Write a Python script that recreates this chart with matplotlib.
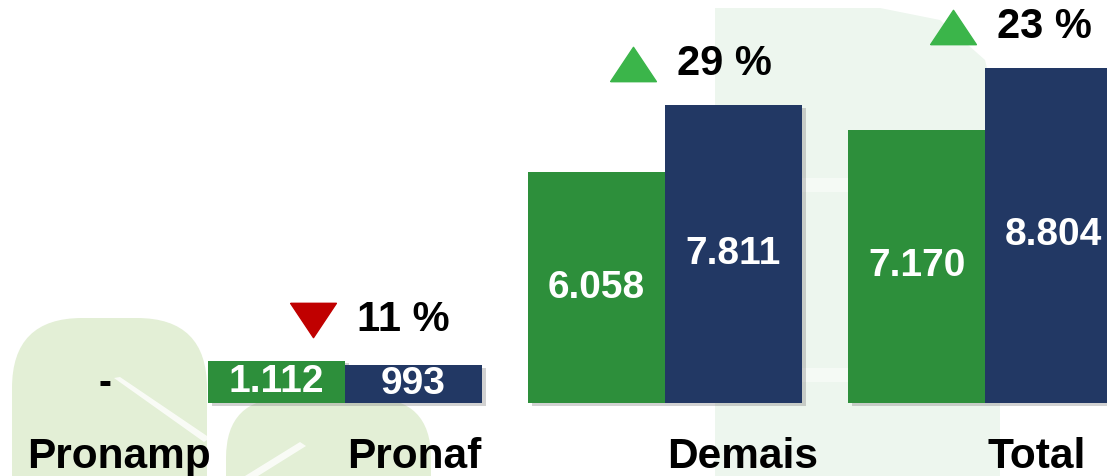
import numpy as np
import matplotlib.pyplot as plt
import matplotlib.transforms as mtransforms
from matplotlib import patheffects as pe
from matplotlib.patches import FancyBboxPatch, Polygon, Rectangle
from matplotlib.path import Path

plt.rcParams['font.family'] = ['Liberation Sans', 'DejaVu Sans']
plt.rcParams['font.weight'] = 'bold'

# dados
categorias = ['Pronamp', 'Pronaf', 'Demais', 'Total']
valores_ant = [0, 1112, 6058, 7170]      # barras verdes
valores_atual = [0, 993, 7811, 8804]     # barras azuis
rotulos_ant = ['', '1.112', '6.058', '7.170']
rotulos_atual = ['-', '993', '7.811', '8.804']
variacao = ['', '11 %', '29 %', '23 %']
sentido = [0, -1, 1, 1]   # -1 queda, 1 alta

verde = '#2d8f3b'
azul = '#223864'
tri_verde = '#3bb54a'
tri_verm = '#c00000'

fig = plt.figure(figsize=(11.07, 4.76), dpi=100)

# fundo com folhas claras (marca d'agua)
bg = fig.add_axes([0, 0, 1, 1], zorder=0)
bg.set_xlim(0, 1107)
bg.set_ylim(476, 0)
bg.axis('off')
bg.add_patch(Polygon([(715, 476), (715, 8), (880, 8), (940, 20), (985, 60),
                      (1000, 120), (1000, 476)], fc='#edf6ee', ec='none'))
bg.add_patch(Rectangle((715, 178), 300, 14, fc='white', ec='none', alpha=0.45))
bg.add_patch(Rectangle((715, 368), 300, 14, fc='white', ec='none', alpha=0.45))
bg.add_patch(FancyBboxPatch((12, 318), 195, 250, boxstyle='round,pad=0,rounding_size=70',
                            fc='#e3efd6', ec='none'))
bg.add_patch(FancyBboxPatch((226, 398), 205, 200, boxstyle='round,pad=0,rounding_size=60',
                            fc='#e3efd6', ec='none'))
bg.add_patch(Polygon([(114, 378), (120, 377), (210, 438), (204, 442)], fc='white', ec='none', alpha=0.8))
bg.add_patch(Polygon([(245, 476), (300, 442), (306, 446), (258, 476)], fc='white', ec='none', alpha=0.8))

ax = fig.add_axes([0, 0, 1, 1], zorder=1)
ax.patch.set_visible(False)
ax.axis('off')

x = np.arange(len(categorias))
w = 0.428
ax.set_xlim(-0.078, 3.381)
ax.set_ylim(-1916, 10579)

sombra = [pe.SimplePatchShadow(offset=(3, -2), shadow_rgbFace='gray', alpha=0.35), pe.Normal()]
b1 = ax.bar(x - w / 2, valores_ant, w, color=verde)
b2 = ax.bar(x + w / 2, valores_atual, w, color=azul)
for b in list(b1) + list(b2):
    b.set_path_effects(sombra)

for i in range(len(categorias)):
    ax.text(x[i] - w / 2, valores_ant[i] / 2, rotulos_ant[i], ha='center', va='center',
            color='white', fontsize=28, fontweight='bold')
    if valores_atual[i] > 0:
        ax.text(x[i] + w / 2, valores_atual[i] / 2, rotulos_atual[i], ha='center', va='center',
                color='white', fontsize=28, fontweight='bold')
    else:
        ax.text(x[i] + 0.25, 500, rotulos_atual[i], ha='center', va='center',
                color='black', fontsize=28, fontweight='bold')
    # nome da categoria
    ax.text(x[i] + 0.008, -1706, categorias[i], ha='left', va='baseline',
            color='black', fontsize=30.5, fontweight='bold')

# triangulos de variacao
tri_up = Path([(-1, -0.75), (1, -0.75), (0, 0.75), (-1, -0.75)])
tri_dn = Path([(-1, 0.75), (1, 0.75), (0, -0.75), (-1, 0.75)])
desloc = mtransforms.offset_copy(ax.transData, fig=fig, x=0, y=41, units='dots')
for i in range(len(categorias)):
    if sentido[i] == 0:
        continue
    topo = max(valores_ant[i], valores_atual[i])
    marc = tri_up if sentido[i] > 0 else tri_dn
    cor = tri_verde if sentido[i] > 0 else tri_verm
    ax.plot(x[i] - 0.1, topo, marker=marc, markersize=33, color=cor,
            linestyle='none', transform=desloc)
    ax.annotate(variacao[i], xy=(x[i], topo), xytext=(12, 41), textcoords='offset pixels',
                ha='left', va='center', fontsize=30, fontweight='bold', color='black')

fig.savefig('out.png', dpi=100)
